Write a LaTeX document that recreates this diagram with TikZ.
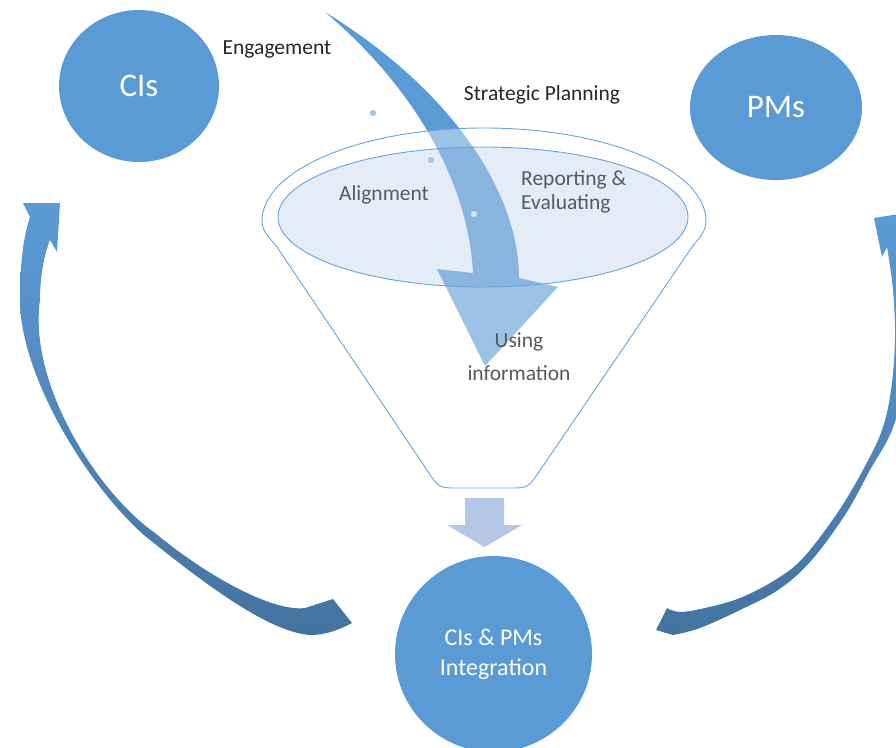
\documentclass[tikz,border=0pt]{standalone}
\usepackage{fontspec}
\setmainfont{Carlito}
\usetikzlibrary{shapes.geometric}
\definecolor{cblue}{HTML}{5B9BD5}
\definecolor{cdark}{HTML}{44739F}
\definecolor{cline}{HTML}{6AA2D8}
\definecolor{cell}{RGB}{195,212,237}
\definecolor{cgray}{HTML}{595959}
\definecolor{ctext}{HTML}{262626}
\definecolor{clight}{HTML}{B4C7E7}
\begin{document}
\begin{tikzpicture}[x=1pt,y=-1pt,
  circ/.style={ellipse, fill=cblue, text=white, inner sep=0pt, align=center},
  lbl/.style={font=\fontsize{21.5pt}{24pt}\selectfont, inner sep=0pt},
  dotmark/.style={fill=cblue!55}
]
\useasboundingbox (0,0) rectangle (896,747);
\clip (0,0) rectangle (896,747);

% big curved arrow (Strategic Planning)
\fill[cblue] (325,12) .. controls (425,97) and (469,193) .. (473,273)
  -- (437,269) -- (485,366) -- (558,287) -- (519,278)
  .. controls (519,195) and (455,92) .. (325,12) -- cycle;

% funnel white veil (ring + cone)
\fill[white, fill opacity=0.4, even odd rule]
  (262,221) arc[start angle=180, end angle=0, x radius=222pt, y radius=93pt]
  .. controls (706,232) and (699,238) .. (692,247)
  -- (540.3,470) .. controls (528,488) .. (510,488) -- (457,488) .. controls (439,488) .. (426.9,470)
  -- (277,247) .. controls (270,238) and (262,232) .. (262,221) -- cycle
  (483,217) ellipse [x radius=205pt, y radius=70pt];

% inner ellipse
\filldraw[fill=cell, fill opacity=0.45, draw=cline, line width=0.9pt]
  (483,217) ellipse [x radius=205pt, y radius=70pt];

% funnel outline
\draw[cline, line width=0.9pt]
  (262,221) arc[start angle=180, end angle=0, x radius=222pt, y radius=93pt]
  .. controls (706,232) and (699,238) .. (692,247)
  -- (540.3,470) .. controls (528,488) .. (510,488) -- (457,488) .. controls (439,488) .. (426.9,470)
  -- (277,247) .. controls (270,238) and (262,232) .. (262,221) -- cycle;

% small dots
\fill[dotmark] (373,113) circle[radius=3.2pt];
\fill[dotmark] (431,160) circle[radius=3.2pt];
\filldraw[fill=white, fill opacity=0.7, draw=cblue!45] (474,214) circle[radius=3pt];

% labels
\node[lbl, text=ctext, anchor=base] (engage) at (277,54) {Engagement};
\node[lbl, text=ctext, anchor=base] (strat) at (542,100) {Strategic Planning};
\node[lbl, text=cgray, anchor=base] (alignm) at (384,200) {Alignment};
\node[lbl, text=cgray, align=left, anchor=west] (report) at (521,192) {Reporting \&\\Evaluating};
\node[lbl, text=cgray, align=center, font=\fontsize{21.5pt}{33pt}\selectfont] (using) at (519,357) {Using\\information};

% circles
\node[circ, minimum width=160pt, minimum height=152pt, font=\fontsize{33pt}{40pt}\selectfont] (cis) at (139,86) {CIs};
\node[circ, minimum width=172pt, minimum height=145pt, font=\fontsize{33pt}{40pt}\selectfont] (pms) at (776,107.5) {PMs};
\node[circ, minimum width=197pt, minimum height=196pt, font=\fontsize{24pt}{30pt}\selectfont] (integ) at (493.5,654) {CIs \& PMs\\Integration};

% small down arrow
\fill[clight] (465,498) -- (504,498) -- (504,525) -- (522,525) -- (484.5,547) -- (447,525) -- (465,525) -- cycle;

% left curved arrow
\shade[top color=cblue, bottom color=cdark]
  (23,203) -- (60,203) -- (57,252) -- (50,240)
  .. controls (43,258) and (40,280) .. (40,300)
  .. controls (28,385) and (99,494) .. (155,533)
  .. controls (212,580) and (275,612) .. (305,608)
  -- (333,599) -- (352,623)
  .. controls (335,632) and (322,635) .. (310,635)
  .. controls (270,632) and (210,588) .. (150,540)
  .. controls (95,496) and (20,380) .. (20,300)
  .. controls (20,260) and (24,235) .. (30,217)
  -- cycle;

% right curved arrow
\shade[top color=cblue, bottom color=cdark]
  (874,218) -- (912,212)
  -- plot[smooth, tension=0.6] coordinates {(912,212)(912,300)(905,380)(892,430)(870,470)(845,515)(810,562)(778,590)(740,610)(700,628)(673,635)}
  -- (656,630) -- (667,608)
  -- plot[smooth, tension=0.6] coordinates {(667,608)(680,612)(705,608)(740,598)(775,580)(803,558)(838,512)(864,468)(882,430)(891,390)(895,340)(893,290)(887,247)}
  -- (882,257) -- cycle;
\end{tikzpicture}
\end{document}
